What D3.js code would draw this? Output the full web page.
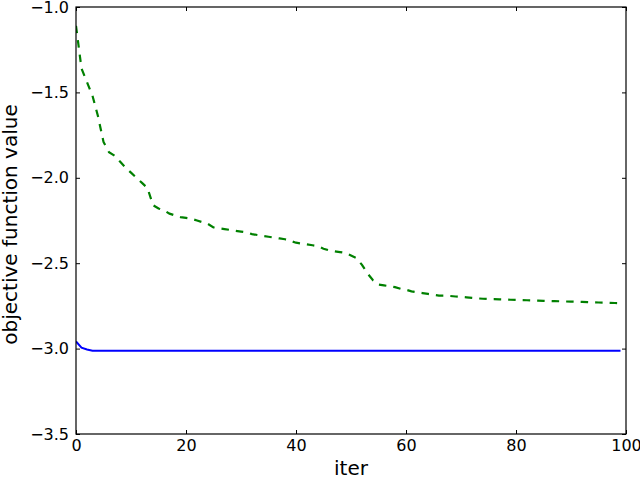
<!DOCTYPE html>
<html><head><meta charset="utf-8">
<script src="https://cdn.jsdelivr.net/npm/d3@7"></script>
<style>body{margin:0;background:#fff}svg{display:block}text{font-family:"DejaVu Sans",sans-serif}</style>
</head><body><svg id="c" width="640" height="477"></svg>
<script>
const iters = d3.range(0, 100);
const greenVals = [-1.11,-1.36,-1.44,-1.52,-1.64,-1.79,-1.85,-1.87,-1.905,-1.94,
-1.97,-2.0,-2.03,-2.06,-2.16,-2.18,-2.19,-2.21,-2.22,-2.23,
-2.235,-2.24,-2.25,-2.26,-2.27,-2.29,-2.295,-2.30,-2.305,-2.31,
-2.315,-2.32,-2.33,-2.335,-2.34,-2.345,-2.35,-2.355,-2.36,-2.37,
-2.38,-2.385,-2.39,-2.395,-2.40,-2.415,-2.425,-2.43,-2.435,-2.44,
-2.455,-2.47,-2.51,-2.56,-2.60,-2.625,-2.63,-2.635,-2.64,-2.65,
-2.655,-2.665,-2.67,-2.675,-2.68,-2.685,-2.69,-2.69,-2.692,-2.695,
-2.697,-2.70,-2.703,-2.706,-2.708,-2.71,-2.71,-2.712,-2.713,-2.714,
-2.715,-2.716,-2.717,-2.718,-2.719,-2.72,-2.721,-2.722,-2.723,-2.724,
-2.725,-2.726,-2.727,-2.728,-2.729,-2.73,-2.731,-2.732,-2.733,-2.734];
const blueVals = [-2.958,-2.995,-3.005,-3.012,-3.012,-3.012,-3.012,-3.012,-3.012,-3.012,
-3.013,-3.013,-3.013,-3.013,-3.013,-3.013,-3.013,-3.013,-3.013,-3.013,
-3.013,-3.013,-3.013,-3.013,-3.013,-3.013,-3.013,-3.013,-3.013,-3.013,
-3.013,-3.013,-3.013,-3.013,-3.013,-3.013,-3.013,-3.013,-3.013,-3.013,
-3.013,-3.013,-3.013,-3.013,-3.013,-3.013,-3.013,-3.013,-3.013,-3.013,
-3.013,-3.013,-3.013,-3.013,-3.013,-3.013,-3.013,-3.013,-3.013,-3.013,
-3.013,-3.013,-3.013,-3.013,-3.013,-3.013,-3.013,-3.013,-3.013,-3.013,
-3.013,-3.013,-3.013,-3.013,-3.013,-3.013,-3.013,-3.013,-3.013,-3.013,
-3.013,-3.013,-3.013,-3.013,-3.013,-3.013,-3.013,-3.013,-3.013,-3.013,
-3.013,-3.013,-3.013,-3.013,-3.013,-3.013,-3.013,-3.013,-3.013,-3.013];
const xTicks = [0,20,40,60,80,100];
const yTicks = [-1.0,-1.5,-2.0,-2.5,-3.0,-3.5];
const xLabel = "iter";
const yLabel = "objective function value";

const L=76, R=626, T=7, B=434;
const svg = d3.select("#c");
const x = d3.scaleLinear().domain([0,100]).range([L,R]);
const y = d3.scaleLinear().domain([-3.5,-1.0]).range([B,T]);
const fmt = v => d3.format(".1f")(v).replace("-","\u2212");

svg.append("clipPath").attr("id","cl").append("rect")
  .attr("x",L).attr("y",T).attr("width",R-L).attr("height",B-T);

const line = d3.line().x((d,i)=>x(iters[i])).y(d=>y(d));
const g = svg.append("g").attr("clip-path","url(#cl)");
g.append("path").datum(blueVals).attr("d",line).attr("fill","none")
  .attr("stroke","#0000ff").attr("stroke-width",2);
g.append("path").datum(greenVals).attr("d",line).attr("fill","none")
  .attr("stroke","#008000").attr("stroke-width",2.2).attr("stroke-dasharray","7.5,7");

const axB = d3.axisBottom(x).tickValues(xTicks).tickSizeInner(-4).tickSizeOuter(0).tickPadding(6).tickFormat(d3.format("d"));
const axT = d3.axisTop(x).tickValues(xTicks).tickSizeInner(-4).tickSizeOuter(0).tickFormat("");
const axL = d3.axisLeft(y).tickValues(yTicks).tickSizeInner(-4).tickSizeOuter(0).tickPadding(7).tickFormat(fmt);
const axR = d3.axisRight(y).tickValues(yTicks).tickSizeInner(-4).tickSizeOuter(0).tickFormat("");
function style(sel){
  sel.select(".domain").remove();
  sel.selectAll("line").attr("stroke","#000").attr("stroke-width",1);
  sel.selectAll("text").attr("fill","#000").style("font-size","16px").style("font-family","DejaVu Sans");
}
svg.append("g").attr("transform",`translate(0,${B})`).call(axB).call(style);
svg.append("g").attr("transform",`translate(0,${T})`).call(axT).call(style);
svg.append("g").attr("transform",`translate(${L},0)`).call(axL).call(style);
svg.append("g").attr("transform",`translate(${R},0)`).call(axR).call(style);
svg.append("rect").attr("x",L).attr("y",T).attr("width",R-L).attr("height",B-T)
  .attr("fill","none").attr("stroke","#000").attr("stroke-width",1.2);

svg.append("text").attr("x",(L+R)/2).attr("y",475).attr("text-anchor","middle")
  .style("font-size","20px").text(xLabel);
svg.append("text").attr("transform",`translate(17,${(T+B)/2 + 4}) rotate(-90)`)
  .attr("text-anchor","middle").style("font-size","20px").text(yLabel);
</script></body></html>
